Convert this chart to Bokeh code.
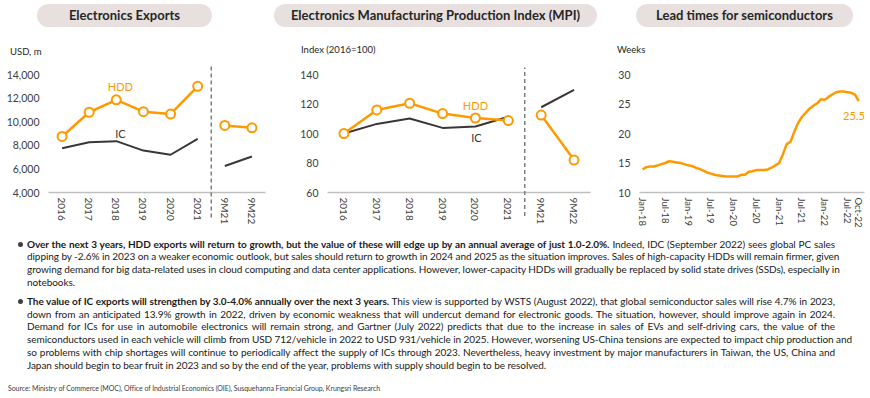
from bokeh.plotting import figure
from bokeh.layouts import column, row
from bokeh.models import Div, Range1d, FixedTicker, Label, NumeralTickFormatter
from bokeh.embed import file_html
from bokeh.resources import INLINE

# ---------------- data ----------------
categories = ["2016", "2017", "2018", "2019", "2020", "2021", "9M21", "9M22"]
n_annual = 6  # first six categories are full years

exp_hdd = [8750, 10800, 11850, 10850, 10650, 13000, 9680, 9480]
exp_ic = [7750, 8250, 8350, 7550, 7200, 8550, 6250, 7050]

mpi_hdd = [100, 116, 120.5, 113.5, 110.5, 108.8, 112.5, 82]
mpi_ic = [100, 106.5, 110.2, 103.8, 104.8, 111.3, 117.8, 129.5]

lead_months = [f"{m}-{y}" for y in ["18", "19", "20", "21", "22"]
               for m in ["Jan", "Feb", "Mar", "Apr", "May", "Jun",
                         "Jul", "Aug", "Sep", "Oct", "Nov", "Dec"]][:58]
lead_weeks = [13.9, 14.3, 14.4, 14.4, 14.6, 14.8, 15.0, 15.3, 15.2, 15.1, 15.0, 14.8,
              14.6, 14.5, 14.2, 14.0, 13.7, 13.4, 13.2, 13.0, 12.9, 12.8, 12.7, 12.7,
              12.7, 12.7, 13.0, 13.0, 13.5, 13.6, 13.8, 13.8, 13.8, 13.9, 14.2, 14.6,
              15.0, 16.5, 18.2, 18.6, 20.3, 21.8, 22.8, 23.5, 24.2, 24.7, 25.1, 25.8,
              25.7, 26.2, 26.6, 27.0, 27.1, 27.1, 27.0, 26.9, 26.6, 25.5]
lead_tick_labels = ["Jan-18", "Jul-18", "Jan-19", "Jul-19", "Jan-20", "Jul-20",
                    "Jan-21", "Jul-21", "Jan-22", "Jul-22", "Oct-22"]

titles = ["Electronics Exports",
          "Electronics Manufacturing Production Index (MPI)",
          "Lead times for semiconductors"]
axis_titles = ["USD, m", "Index (2016=100)", "Weeks"]

para1_bold = "Over the next 3 years, HDD exports will return to growth, but the value of these will edge up by an annual average of just 1.0-2.0%."
para1_lines = [
    " Indeed, IDC (September 2022) sees global PC sales",
    "dipping by -2.6% in 2023 on a weaker economic outlook, but sales should return to growth in 2024 and 2025 as the situation improves. Sales of high-capacity HDDs will remain firmer, given",
    "growing demand for big data-related uses in cloud computing and data center applications. However, lower-capacity HDDs will gradually be replaced by solid state drives (SSDs), especially in",
    "notebooks.",
]
para2_bold = "The value of IC exports will strengthen by 3.0-4.0% annually over the next 3 years."
para2_lines = [
    " This view is supported by WSTS (August 2022), that global semiconductor sales will rise 4.7% in 2023,",
    "down from an anticipated 13.9% growth in 2022, driven by economic weakness that will undercut demand for electronic goods. The situation, however, should improve again in 2024.",
    "Demand for ICs for use in automobile electronics will remain strong, and Gartner (July 2022) predicts that due to the increase in sales of EVs and self-driving cars, the value of the",
    "semiconductors used in each vehicle will climb from USD 712/vehicle in 2022 to USD 931/vehicle in 2025. However, worsening US-China tensions are expected to impact chip production and",
    "so problems with chip shortages will continue to periodically affect the supply of ICs through 2023. Nevertheless, heavy investment by major manufacturers in Taiwan, the US, China and",
    "Japan should begin to bear fruit in 2023 and so by the end of the year, problems with supply should begin to be resolved.",
]
source_text = "Source: Ministry of Commerce (MOC), Office of Industrial Economics (OIE), Susquehanna Financial Group, Krungsri Research"

# ---------------- style ----------------
ORANGE = "#FF9900"
DARK = "#3B3537"
AXIS = "#BFBFBF"
FONT = "Lato"
TXT = "#404040"
W = 870
TOP_H = 60
FIG_H = 172
TEXT_H = 166


def base_fig(width, ml, mr, mt, mb, x_range, y_range):
    p = figure(width=width, height=FIG_H, output_backend="svg", toolbar_location=None,
               x_range=x_range, y_range=y_range,
               min_border_left=ml, min_border_right=mr,
               min_border_top=mt, min_border_bottom=mb, margin=0)
    p.outline_line_color = None
    p.grid.visible = False
    p.yaxis.axis_line_color = None
    p.yaxis.major_tick_line_color = None
    p.yaxis.minor_tick_line_color = None
    p.yaxis.major_tick_out = 0
    p.yaxis.major_tick_in = 0
    p.yaxis.major_label_text_font = FONT
    p.yaxis.major_label_text_font_size = "10.5px"
    p.yaxis.major_label_text_color = TXT
    p.yaxis.major_label_standoff = 9
    p.xaxis.axis_line_color = AXIS
    p.xaxis.axis_line_width = 1.5
    p.xaxis.major_tick_line_color = None
    p.xaxis.minor_tick_line_color = None
    p.xaxis.major_tick_out = 0
    p.xaxis.major_tick_in = 0
    p.xaxis.major_label_text_font = FONT
    p.xaxis.major_label_text_font_size = "10px"
    p.xaxis.major_label_text_color = TXT
    p.xaxis.major_label_orientation = "vertical"
    p.xaxis.major_label_standoff = 5
    return p


def label(p, x, y, text, color, size="11px", align="center", x_offset=0):
    p.add_layout(Label(x=x, y=y, text=text, text_color=color, text_font=FONT,
                       text_font_size=size, text_align=align, text_baseline="middle",
                       x_offset=x_offset))


xs = list(range(len(categories)))
sep = n_annual - 0.5


def cat_panel(width, ml, mr, mt, mb, yr, yticks, hdd, ic, fmt, sep_lo, sep_hi):
    p = base_fig(width, ml, mr, mt, mb, Range1d(-0.5, len(categories) - 0.5), yr)
    p.yaxis.ticker = FixedTicker(ticks=yticks)
    p.yaxis.formatter = NumeralTickFormatter(format=fmt)
    p.xaxis.ticker = FixedTicker(ticks=xs)
    p.xaxis.major_label_overrides = {i: c for i, c in enumerate(categories)}
    p.segment(x0=[sep], y0=[sep_lo], x1=[sep], y1=[sep_hi], line_color="#7F7F7F",
              line_width=1.5, line_dash="4 3", level="overlay")
    for a, b in [(0, n_annual), (n_annual, len(categories))]:
        p.line(xs[a:b], ic[a:b], line_color=DARK, line_width=2)
        p.line(xs[a:b], hdd[a:b], line_color=ORANGE, line_width=2.5)
    p.scatter(xs, hdd, size=9, fill_color="white", line_color=ORANGE, line_width=2)
    return p


# Panel 1
p1 = cat_panel(285, 48, 20, 14, 40, Range1d(4000, 14000), list(range(4000, 14001, 2000)),
               exp_hdd, exp_ic, "0,0", 1880, 14680)
label(p1, 2.15, 12980, "HDD", ORANGE)
label(p1, 2.15, 9000, "IC", DARK)

# Panel 2
p2 = cat_panel(318, 42, 13, 14, 39, Range1d(60, 140), list(range(60, 141, 20)),
               mpi_hdd, mpi_ic, "0", 44, 144.7)
label(p2, 4.0, 119.2, "HDD", ORANGE)
label(p2, 4.03, 97, "IC", DARK)

# Panel 3
mx = list(range(len(lead_weeks)))
p3 = base_fig(267, 36, 6, 12, 39, Range1d(-0.8, 58.5), Range1d(10, 30))
p3.yaxis.ticker = FixedTicker(ticks=[10, 15, 20, 25, 30])
tick_pos = [lead_months.index(t) for t in lead_tick_labels]
p3.xaxis.ticker = FixedTicker(ticks=tick_pos)
p3.xaxis.major_label_overrides = {i: lead_months[i] for i in tick_pos}
p3.xaxis.major_label_text_font_size = "9.5px"
p3.line(mx, lead_weeks, line_color=ORANGE, line_width=2.5)
label(p3, mx[-1], lead_weeks[-1] - 2.6, f"{lead_weeks[-1]}", ORANGE, size="11px",
      align="right", x_offset=6)

# ---------------- pills + axis titles ----------------
pill_geo = [(37, 175), (274, 323), (636, 217)]
axis_title_geo = [(10, 52), (301, 50), (617, 50)]
top_html = f'<div style="position:relative;width:{W}px;height:{TOP_H}px;">'
for (left, w), t in zip(pill_geo, titles):
    top_html += (f'<div style="position:absolute;left:{left}px;top:4px;width:{w}px;height:23px;'
                 f'border-radius:11.5px;background:#E8E0DE;display:flex;align-items:center;'
                 f'justify-content:center;font-family:{FONT};font-weight:bold;font-size:13px;'
                 f'color:#262626;white-space:nowrap;">{t}</div>')
for (left, cy), t in zip(axis_title_geo, axis_titles):
    top_html += (f'<div style="position:absolute;left:{left}px;top:{cy - 6}px;height:12px;'
                 f'line-height:12px;font-family:{FONT};font-size:9.5px;color:#262626;'
                 f'white-space:nowrap;">{t}</div>')
top_html += '</div>'
top_div = Div(text=top_html, width=W, height=TOP_H, margin=0)

# ---------------- text ----------------
LINE = ('text-align:justify;text-align-last:justify;white-space:nowrap;'
        'line-height:12.75px;height:12.75px;')
LAST = 'text-align:left;white-space:nowrap;line-height:12.75px;height:12.75px;'


def para(bold, lines, top):
    h = (f'<div style="position:relative;padding-left:27px;width:835px;'
         f'margin-top:{top}px;">')
    h += ('<span style="position:absolute;left:17.5px;top:4px;width:5px;height:5px;'
          'border-radius:50%;background:#404040;"></span>')
    for i, ln in enumerate(lines):
        style = LAST if i == len(lines) - 1 else LINE
        content = (f'<b>{bold}</b>{ln}' if i == 0 else ln)
        h += f'<div style="{style}">{content}</div>'
    h += '</div>'
    return h


body = (f'<div style="width:{W}px;font-family:{FONT};font-size:10px;letter-spacing:-0.07px;'
        f'color:#1A1A1A;">'
        + para(para1_bold, para1_lines, 5.6)
        + para(para2_bold, para2_lines, 6.2)
        + f'<div style="font-size:7px;line-height:8px;margin-top:13px;padding-left:8px;'
          f'color:#404040;white-space:nowrap;">{source_text}</div>'
        + '</div>')
text_div = Div(text=body, width=W, height=TEXT_H, margin=0)

layout = column(top_div, row(p1, p2, p3, margin=0), text_div, margin=0)
open("out.html", "w").write(file_html(layout, INLINE))
